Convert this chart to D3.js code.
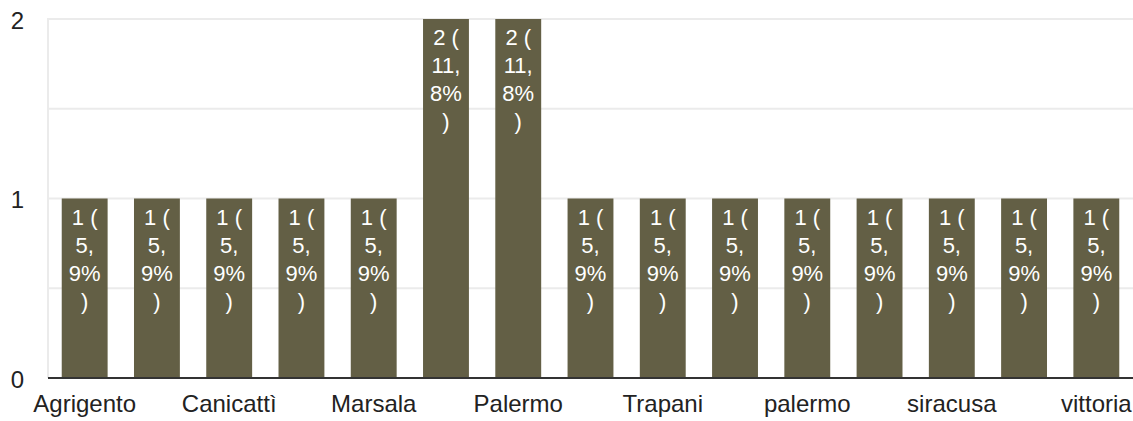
<!DOCTYPE html>
<html><head><meta charset="utf-8">
<script src="https://cdn.jsdelivr.net/npm/d3@7"></script>
<style>
html,body{margin:0;padding:0;background:#fff;}
svg{display:block;font-family:"Liberation Sans",Arial,sans-serif;}
</style></head>
<body><svg id="c" width="1133" height="421"></svg>
<script>
const categories = ["Agrigento","Caltanissetta","Canicattì","Catania","Marsala","Messina","Palermo","Ragusa","Trapani","catania","palermo","ragusa","siracusa","trapani","vittoria"];
const values = [1,1,1,1,1,2,2,1,1,1,1,1,1,1,1];
const total = 17;
const yTicks = [0,1,2];
const gridValues = [0.5,1,1.5,2];

(function(){
const svg = d3.select("#c");
const mLeft = 48, mRight = 1133, mTop = 19, mBottom = 378;

const x = d3.scaleBand().domain(categories).range([mLeft, mRight]).paddingInner(0.365).paddingOuter(0.19);
const y = d3.scaleLinear().domain([0, 2]).range([mBottom, mTop]);

// gridlines
svg.append("g").selectAll("line").data(gridValues).join("line")
  .attr("x1", mLeft).attr("x2", mRight)
  .attr("y1", d => y(d)).attr("y2", d => y(d))
  .attr("stroke", "#ebebeb").attr("stroke-width", 2);
svg.append("line").attr("x1", mLeft).attr("x2", mLeft).attr("y1", mTop-1).attr("y2", mBottom)
  .attr("stroke", "#ebebeb").attr("stroke-width", 2);

// bars
svg.append("g").selectAll("rect").data(categories).join("rect")
  .attr("x", d => x(d)).attr("width", x.bandwidth())
  .attr("y", (d,i) => y(values[i])).attr("height", (d,i) => y(0) - y(values[i]))
  .attr("fill", "#635f45");

// bar labels
function labelLines(v) {
  const pct = (v / total * 100).toFixed(1).split(".");
  return [v + " (", pct[0] + ",", pct[1] + "%", ")"];
}
const lg = svg.append("g");
categories.forEach((c, i) => {
  const t = lg.append("text").attr("text-anchor", "middle").attr("fill", "#fff")
    .attr("font-size", 22);
  labelLines(values[i]).forEach((ln, k) => {
    t.append("tspan").attr("x", x(c) + x.bandwidth()/2)
      .attr("y", y(values[i]) + 26 + k * 28).text(ln);
  });
});

// baseline
svg.append("line").attr("x1", mLeft).attr("x2", mRight).attr("y1", y(0)).attr("y2", y(0))
  .attr("stroke", "#333").attr("stroke-width", 2);

// y tick labels
svg.append("g").selectAll("text").data(yTicks).join("text")
  .attr("x", 24).attr("y", d => y(d) + 9.5)
  .attr("text-anchor", "end").attr("font-size", 24).attr("fill", "#222")
  .text(d => d);

// x labels (every other)
const xAxis = d3.axisBottom(x).tickSize(0).tickPadding(0)
  .tickFormat((d, i) => i % 2 === 0 ? d : "");
const xg = svg.append("g").attr("transform", `translate(0,${y(0)})`).call(xAxis);
xg.select(".domain").remove();
xg.selectAll("text").attr("font-size", 24).attr("fill", "#222")
  .attr("font-family", "Liberation Sans, Arial, sans-serif").attr("dy", null).attr("y", 34);
})();
</script></body></html>
